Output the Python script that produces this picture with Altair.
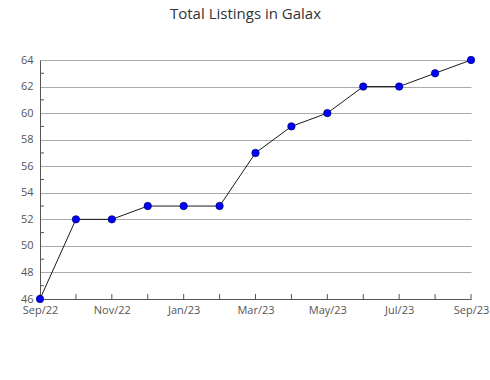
import altair as alt
import pandas as pd

months = ["Sep/22", "Oct/22", "Nov/22", "Dec/22", "Jan/23", "Feb/23", "Mar/23",
          "Apr/23", "May/23", "Jun/23", "Jul/23", "Aug/23", "Sep/23"]
listings = [46, 52, 52, 53, 53, 53, 57, 59, 60, 62, 62, 63, 64]
minor_y = [47, 49, 51, 53, 55, 57, 59, 61, 63]
shown_labels = ["Sep/22", "Nov/22", "Jan/23", "Mar/23", "May/23", "Jul/23", "Sep/23"]
major_y = [46, 48, 50, 52, 54, 56, 58, 60, 62, 64]

df = pd.DataFrame({"month": months, "listings": listings, "order": list(range(len(months)))})
dm = pd.DataFrame({"listings": minor_y})
dx = pd.DataFrame({"month": months})

W, H = 431, 239
FONT = "Open Sans"

xscale = alt.Scale(type="point", domain=months, padding=0)
yscale = alt.Scale(domain=[46, 64], nice=False, zero=False)

label_list = "[" + ",".join("'" + s + "'" for s in shown_labels) + "]"
xaxis = alt.Axis(title=None, labelExpr=f"indexof({label_list}, datum.label) >= 0 ? datum.label : ''",
                 ticks=False, grid=False, domainColor="#555", labelColor="#555",
                 labelFont=FONT, labelFontSize=11, labelPadding=5, labelAngle=0,
                 labelOverlap=False, labelFlush=False, labelAlign="center",
                 labelBaseline="top")
yaxis = alt.Axis(title=None, values=major_y, ticks=False, grid=True,
                 gridColor="#aaa", domainColor="#555", labelColor="#555",
                 labelFont=FONT, labelFontSize=11, labelPadding=7,
                 labelOverlap=False, labelFlush=False, labelBaseline="middle")

X = alt.X("month:O", scale=xscale, axis=xaxis, sort=months)
Y = alt.Y("listings:Q", scale=yscale, axis=yaxis)

line = alt.Chart(df).mark_line(color="black", strokeWidth=0.9).encode(
    x=X, y=Y, order="order:Q",
)
pts = alt.Chart(df).mark_circle(color="#0000ff", stroke="#000066",
                                strokeWidth=0.7, size=55, opacity=1).encode(x=X, y=Y)
xt = alt.Chart(dx).mark_rule(color="#555", strokeWidth=1).encode(
    x=X, y=alt.value(H), y2=alt.value(H - 5),
)
yt = alt.Chart(dm).mark_rule(color="#555", strokeWidth=1).encode(
    y=Y, x=alt.value(0), x2=alt.value(4),
)

chart = alt.layer(line, xt, yt, pts).properties(
    width=W, height=H,
    background="white",
    title=alt.TitleParams("Total Listings in Galax", font=FONT, fontSize=15,
                          fontWeight="normal", color="#333", offset=32, dx=-10),
    autosize=alt.AutoSizeParams(type="none"),
    padding={"left": 40, "top": 60, "right": 19, "bottom": 81},
).configure_view(stroke=None)

chart.save("out.html", embed_options={"renderer": "svg", "actions": False})
